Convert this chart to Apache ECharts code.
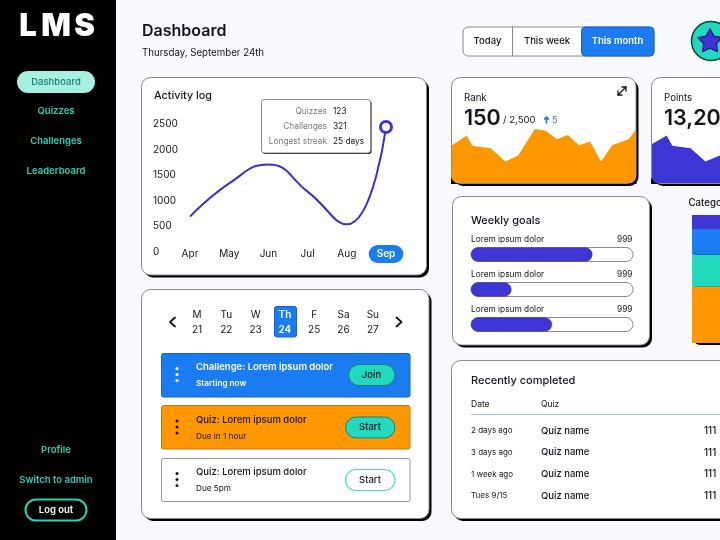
<!DOCTYPE html>
<html lang="en">

<head>
    <meta charset="UTF-8">
    <title>LMS Dashboard</title>
    <script src="https://cdn.jsdelivr.net/npm/echarts@6/dist/echarts.min.js"></script>
    <style>
        html, body { margin: 0; padding: 0; background: #f8f8ff; overflow: hidden; }
        #myChart { width: 720px; height: 540px; }
    </style>
</head>

<body>
    <div id="myChart"></div>
    <script>
        // chart data
        var months = ['Apr', 'May', 'Jun', 'Jul', 'Aug', 'Sep'];
        var activityValues = [690, 1340, 1710, 1180, 540, 2440];
        var activityTicks = [0, 500, 1000, 1500, 2000, 2500];

        var rankDays = [0, 8, 11, 21, 29, 36, 45, 51, 57, 63, 69, 75, 81, 87, 96, 100];
        var rankValues = [63, 79, 62, 58, 36, 46, 90, 87, 73, 80, 63, 69, 36, 63, 73, 89];
        var pointsDays = [0, 8, 11, 21, 29, 37, 45];
        var pointsValues = [65, 79, 62, 58, 36, 46, 90];

        var goalNames = ['Lorem ipsum dolor', 'Lorem ipsum dolor', 'Lorem ipsum dolor'];
        var goalCounts = [999, 999, 999];
        var goalProgress = [75, 25, 50];

        var categoryNames = ['Quiz', 'Challenge', 'Lesson', 'Other'];
        var categoryShares = [44, 25, 20, 11];

        var weekDays = ['M', 'Tu', 'W', 'Th', 'F', 'Sa', 'Su'];
        var weekDates = [21, 22, 23, 24, 25, 26, 27];
        var recentDates = ['2 days ago', '3 days ago', '1 week ago', 'Tues 9/15'];
        var recentQuizzes = ['Quiz name', 'Quiz name', 'Quiz name', 'Quiz name'];
        var recentScores = [111, 111, 111, 111];

        var INDIGO = '#3d35d4', BLUE = '#1b7cf2', TEAL = '#22d9bd', ORANGE = '#ff9800', INK = '#14141c';
        var FONT = 'Inter, "Noto Sans", sans-serif';

        var els = [];

        function rect(x, y, w, h, r, fill, stroke, lw, z) {
            els.push({
                type: 'rect', silent: true, z: z || 0,
                shape: { x: x, y: y, width: w, height: h, r: r },
                style: { fill: fill, stroke: stroke || null, lineWidth: lw || 0 }
            });
        }

        function text(str, x, y, size, weight, color, align) {
            els.push({
                type: 'text', silent: true, z: 20, x: x, y: y + 1,
                style: {
                    text: String(str), fill: color || INK, align: align || 'left', verticalAlign: 'middle',
                    font: (weight || 400) + ' ' + size + 'px ' + FONT
                }
            });
        }

        function card(x, y, w, h, r) {
            rect(x + 2.5, y + 2.5, w, h, r, '#000');
            rect(x, y, w, h, r, '#fff', '#8a8a8a', 1);
        }

        function poly(points, color, lw, z) {
            els.push({
                type: 'polyline', silent: true, z: z || 20,
                shape: { points: points },
                style: { stroke: color, lineWidth: lw, fill: null, lineCap: 'round', lineJoin: 'round' }
            });
        }

        // black wedge that rounds a bottom corner of a filled card, (x, y) is the square corner
        function cornerMask(x, y, r, dir) {
            var pts = [[x, y]];
            for (var a = 0; a <= 8; a++) {
                var t = a / 8 * Math.PI / 2;
                pts.push([x + dir * (r - r * Math.sin(t)), y - (r - r * Math.cos(t))]);
            }
            els.push({ type: 'polygon', silent: true, z: 15, shape: { points: pts }, style: { fill: '#000' } });
        }

        function dots(x, cy, color) {
            [-6, 0, 6].forEach(function (d) {
                els.push({ type: 'circle', silent: true, z: 20, shape: { cx: x, cy: cy + d, r: 1.5 }, style: { fill: color } });
            });
        }

        // sidebar
        rect(0, 0, 116, 540, 0, '#000');
        text('L', 28, 26, 31, 900, '#fff', 'center');
        text('M', 56, 26, 31, 900, '#fff', 'center');
        text('S', 84.5, 26, 31, 900, '#fff', 'center');
        rect(17, 71, 78, 22, 11, '#a6efe1');
        text('Dashboard', 56, 81.5, 9.5, 500, '#1d7f70', 'center');
        text('Quizzes', 56, 110.5, 9.5, 600, '#2ad1b5', 'center');
        text('Challenges', 56, 140.5, 9.5, 600, '#2ad1b5', 'center');
        text('Leaderboard', 56, 170.5, 9.5, 600, '#2ad1b5', 'center');
        text('Profile', 56, 449.5, 9.5, 600, '#2ad1b5', 'center');
        text('Switch to admin', 56, 479.5, 9.5, 600, '#2ad1b5', 'center');
        rect(25.5, 499.5, 61, 21, 10.5, '#000', '#2ad1b5', 2);
        text('Log out', 56, 509.5, 9.5, 600, '#fff', 'center');

        // header
        text('Dashboard', 142, 30, 16, 600, INK);
        text('Thursday, September 24th', 142, 52.5, 9.7, 400, INK);
        rect(463, 27, 191, 29, 5, '#fff', '#8a8a8a', 1);
        rect(581.5, 27, 72.5, 29, 4, BLUE, '#1464c8', 1);
        poly([[512.5, 27], [512.5, 56]], '#8a8a8a', 1, 2);
        text('Today', 487.5, 40.5, 9.5, 500, INK, 'center');
        text('This week', 547, 40.5, 9.5, 500, INK, 'center');
        text('This month', 617.5, 40.5, 9.5, 600, '#fff', 'center');

        // avatar with star
        els.push({ type: 'circle', silent: true, z: 2, shape: { cx: 711, cy: 41, r: 19.5 }, style: { fill: TEAL, stroke: '#0d3d44', lineWidth: 1.5 } });
        var star = [];
        for (var i = 0; i < 10; i++) {
            var rad = i % 2 ? 6.6 : 12.5;
            var ang = -Math.PI / 2 + i * Math.PI / 5;
            star.push([710 + rad * Math.cos(ang), 41.5 + rad * Math.sin(ang)]);
        }
        els.push({ type: 'polygon', silent: true, z: 3, shape: { points: star }, style: { fill: INDIGO, stroke: '#221d8c', lineWidth: 1.5, lineJoin: 'round' } });

        // activity card
        card(141.5, 77.5, 285, 197.5, 9);
        text('Activity log', 154, 95, 10.8, 500, INK);
        rect(262.5, 100.5, 109, 53.5, 3, '#000');
        rect(261.5, 99.5, 109, 53.5, 3, '#fff', '#8a8a8a', 1, 0);
        els[els.length - 1].z = 12;
        els[els.length - 2].z = 12;
        text('Quizzes', 327, 111, 8.3, 400, '#77777c', 'right');
        text('Challenges', 327, 126, 8.3, 400, '#77777c', 'right');
        text('Longest streak', 327, 141, 8.3, 400, '#77777c', 'right');
        text('123', 333, 111, 8.3, 400, INK);
        text('321', 333, 126, 8.3, 400, INK);
        text('25 days', 333, 141, 8.3, 400, INK);

        // rank and points cards
        card(451.5, 77.5, 184.5, 106, 9);
        text('Rank', 464, 97, 9.7, 400, INK);
        text('150', 464, 118, 21.5, 600, INK);
        text('/ 2,500', 503, 119.5, 9.6, 400, INK);
        poly([[546.5, 123], [546.5, 117], [544.5, 119], [548.5, 119], [546.5, 117]], BLUE, 1.6);
        text('5', 552, 119.5, 9, 400, BLUE);
        poly([[618, 95], [626, 87]], INK, 1.3);
        poly([[618, 91], [618, 95], [622, 95]], INK, 1.3);
        poly([[622, 87], [626, 87], [626, 91]], INK, 1.3);
        card(651.5, 77.5, 184.5, 106, 9);
        text('Points', 664, 97, 9.7, 400, INK);
        text('13,204', 664, 118, 21.5, 600, INK);
        // rounded bottom corners over the area fills
        cornerMask(451, 184, 9, 1);
        cornerMask(636.5, 184, 9, -1);
        cornerMask(651, 184, 9, 1);

        // weekly goals card
        card(452.5, 196.5, 197, 148.5, 9);
        text('Weekly goals', 471, 219.5, 10.9, 500, INK);
        goalNames.forEach(function (name, i) {
            text(name, 471, 238.7 + i * 35, 8.3, 400, INK);
            text(goalCounts[i], 632.5, 238.7 + i * 35, 8.3, 400, INK, 'right');
        });

        // categories title
        text('Categories', 688.5, 202, 9.7, 500, INK);
        rect(694, 217, 60, 128, 6, '#000');

        // calendar card
        card(141.5, 289.5, 287.5, 229, 9);
        poly([[175, 317.5], [170, 322], [175, 326.5]], INK, 1.8);
        poly([[396.5, 317.5], [401.5, 322], [396.5, 326.5]], INK, 1.8);
        rect(274.5, 306.5, 22, 30.5, 2, BLUE, '#1464c8', 1);
        weekDays.forEach(function (day, i) {
            var cx = 197 + i * 29.3;
            var on = i === 3;
            text(day, cx, 313.5, 10, on ? 600 : 400, on ? '#fff' : INK, 'center');
            text(weekDates[i], cx, 328.7, 10, on ? 600 : 400, on ? '#fff' : INK, 'center');
        });

        // task rows
        rect(161.5, 353.5, 248.5, 43.5, 2, BLUE, '#1464c8', 1);
        dots(177, 374.5, '#fff');
        text('Challenge: Lorem ipsum dolor', 196, 366.5, 9.5, 600, '#fff');
        text('Starting now', 196, 383, 8.2, 600, '#fff');
        rect(348.5, 364.5, 46.5, 21, 10.5, TEAL, '#1a7d78', 1);
        text('Join', 371.5, 374, 9.5, 500, INK, 'center');

        rect(161.5, 405.5, 248.5, 43.5, 2, ORANGE, '#b87a14', 1);
        dots(177, 427, INK);
        text('Quiz: Lorem ipsum dolor', 196, 419, 9.5, 500, INK);
        text('Due in 1 hour', 196, 435.5, 8.2, 400, INK);
        rect(345.5, 417, 49.5, 21, 10.5, TEAL, '#1a7d78', 1);
        text('Start', 370, 426.5, 9.5, 500, INK, 'center');

        rect(161.5, 458.5, 248.5, 43, 2, '#fff', '#9a9a9a', 1);
        dots(177, 479.5, INK);
        text('Quiz: Lorem ipsum dolor', 196, 471.5, 9.5, 500, INK);
        text('Due 5pm', 196, 488, 8.2, 400, INK);
        rect(345.5, 469.5, 49.5, 21, 10.5, '#fff', '#4fdcc4', 1.2);
        text('Start', 370, 479, 9.5, 500, INK, 'center');

        // recently completed card
        card(451.5, 360.5, 320, 158, 9);
        text('Recently completed', 471, 379.5, 11, 500, INK);
        text('Date', 471, 403, 8.5, 400, INK);
        text('Quiz', 541, 403, 8.5, 400, INK);
        poly([[471, 414.5], [740, 414.5]], '#b3c3dc', 1, 2);
        recentDates.forEach(function (d, i) {
            var y = 430 + i * 21.6;
            text(d, 471, y, 8, 400, INK);
            text(recentQuizzes[i], 541, y, 9.5, 500, INK);
            text(recentScores[i], 704, y, 9.8, 500, INK);
        });

        var lastMonth = months.length - 1;

        function areaSeries(days, values, color, axis) {
            return {
                type: 'line', xAxisIndex: axis, yAxisIndex: axis, symbol: 'none', z: 3,
                data: days.map(function (d, i) { return [d, values[i]]; }),
                lineStyle: { width: 0 }, itemStyle: { color: color },
                areaStyle: { color: color, opacity: 1 }
            };
        }

        function hiddenValueAxis(idx, min, max) {
            return { type: 'value', gridIndex: idx, min: min, max: max, show: false };
        }

        var option = {
            backgroundColor: '#f8f8ff',
            animation: false,
            textStyle: { fontFamily: FONT },
            graphic: { elements: els },
            grid: [
                { left: 190, top: 124, width: 196, height: 128, outerBoundsMode: 'none' },
                { left: 452, top: 123, width: 184, height: 60, outerBoundsMode: 'none' },
                { left: 652, top: 123, width: 184, height: 60, outerBoundsMode: 'none' },
                { left: 471, top: 237, width: 162, height: 105, outerBoundsMode: 'none' },
                { left: 692, top: 215, width: 100, height: 128, outerBoundsMode: 'none' }
            ],
            xAxis: [
                {
                    type: 'category', gridIndex: 0, data: months, boundaryGap: false, z: 5,
                    axisLine: { show: false }, axisTick: { show: false },
                    axisLabel: {
                        margin: -7, interval: 0, color: INK, fontFamily: FONT,
                        formatter: function (v, i) { return (i === lastMonth ? '{sel|' : '{plain|') + v + '}'; },
                        rich: {
                            plain: { color: INK, fontSize: 10, fontFamily: FONT, padding: [4, 8, 4, 8] },
                            sel: {
                                color: '#fff', fontWeight: 600, fontSize: 10, fontFamily: FONT,
                                backgroundColor: BLUE, borderRadius: 9, padding: [4, 8, 4, 8]
                            }
                        }
                    }
                },
                hiddenValueAxis(1, 0, 100),
                hiddenValueAxis(2, 0, 100),
                hiddenValueAxis(3, 0, 100),
                { type: 'category', gridIndex: 4, data: ['Share'], show: false }
            ],
            yAxis: [
                {
                    type: 'value', gridIndex: 0, min: 0, max: 2500, interval: activityTicks[1], z: 5,
                    splitLine: { show: false }, axisLine: { show: false }, axisTick: { show: false },
                    axisLabel: {
                        align: 'left', margin: 37, color: INK, fontSize: 10, fontFamily: FONT,
                        formatter: function (v) { return String(v); }
                    }
                },
                hiddenValueAxis(1, 0, 100),
                hiddenValueAxis(2, 0, 100),
                {
                    type: 'category', gridIndex: 3, data: goalNames.map(function (n, i) { return 'Goal ' + (i + 1); }),
                    inverse: true, show: false
                },
                hiddenValueAxis(4, 0, 100)
            ],
            series: [
                {
                    type: 'line', xAxisIndex: 0, yAxisIndex: 0, smooth: 0.5, z: 6,
                    symbol: 'circle', showAllSymbol: true,
                    symbolSize: function (v, p) { return p.dataIndex === lastMonth ? 11 : 0; },
                    data: activityValues,
                    lineStyle: { color: '#3a2fc9', width: 2 },
                    itemStyle: { color: '#fff', borderColor: INDIGO, borderWidth: 3 }
                },
                areaSeries(rankDays, rankValues, ORANGE, 1),
                areaSeries(pointsDays, pointsValues, INDIGO, 2),
                {
                    type: 'bar', xAxisIndex: 3, yAxisIndex: 3, barWidth: 14, z: 4,
                    data: goalProgress,
                    showBackground: true,
                    backgroundStyle: { color: '#fff', borderColor: '#8a8a8a', borderWidth: 1, borderRadius: 7, opacity: 1 },
                    itemStyle: { color: INDIGO, borderRadius: 7, borderColor: '#2d27a8', borderWidth: 0.5 }
                }
            ].concat(categoryNames.map(function (name, i) {
                return {
                    type: 'bar', name: name, xAxisIndex: 4, yAxisIndex: 4, stack: 'share', barWidth: '100%', z: 4,
                    data: [categoryShares[i]],
                    itemStyle: { color: [ORANGE, TEAL, BLUE, INDIGO][i] }
                };
            }))
        };

        var myChart = echarts.init(document.getElementById('myChart'));
        myChart.setOption(option);
    </script>
</body>

</html>
